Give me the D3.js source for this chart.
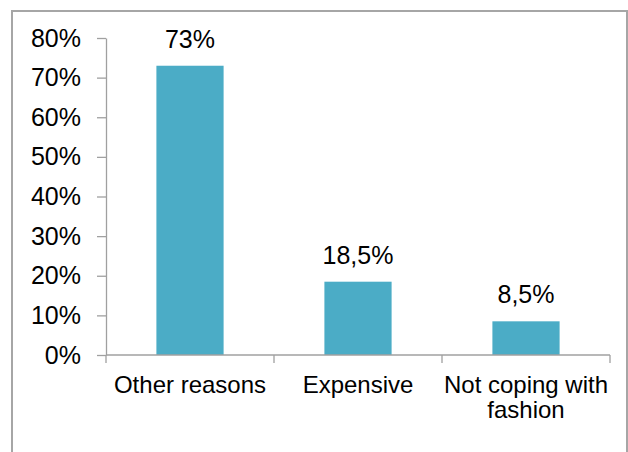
<!DOCTYPE html>
<html>
<head>
<meta charset="utf-8">
<script src="https://cdn.jsdelivr.net/npm/d3@7"></script>
<style>
  html, body { margin: 0; padding: 0; background: #fff; }
  svg { display: block; }
  text { font-family: "Liberation Sans", Arial, sans-serif; fill: #000; }
</style>
</head>
<body>
<svg id="chart" width="628" height="452"></svg>
<script>
const categories = [["Other reasons"], ["Expensive"], ["Not coping with", "fashion"]];
const categoryKeys = ["Other reasons", "Expensive", "Not coping with fashion"];
const values = [0.73, 0.185, 0.085];
const valueLabels = ["73%", "18,5%", "8,5%"];
const yTicks = [0, 0.1, 0.2, 0.3, 0.4, 0.5, 0.6, 0.7, 0.8];

const svg = d3.select("#chart");
const axisColor = "#a0a0a0";
const barColor = "#4bacc6";
const fontSize = 24;
const numFontSize = 25;

// frame
svg.append("rect")
  .attr("x", 12).attr("y", 11)
  .attr("width", 615).attr("height", 470)
  .attr("fill", "none").attr("stroke", "#a6a6a6").attr("stroke-width", 2);

const y = d3.scaleLinear().domain([0, 0.8]).range([355, 38]);
const x = d3.scaleBand().domain(categoryKeys).range([106, 610]).padding(0);

// y axis
const yAxis = svg.append("g")
  .attr("transform", "translate(106,0)")
  .call(d3.axisLeft(y).tickValues(yTicks).tickFormat(d3.format(".0%")).tickSize(9).tickPadding(16).tickSizeOuter(0));
yAxis.select(".domain").attr("stroke", axisColor).attr("stroke-width", 1.3);
yAxis.selectAll(".tick line").attr("stroke", axisColor).attr("stroke-width", 1.3);
yAxis.selectAll(".tick text")
  .attr("font-size", numFontSize)
  .attr("font-family", "'Liberation Sans', Arial, sans-serif")
  .attr("fill", "#000");

// bars
const barW = x.bandwidth() * 0.4;
svg.append("g").selectAll("rect")
  .data(values)
  .join("rect")
  .attr("x", (d, i) => x(categoryKeys[i]) + (x.bandwidth() - barW) / 2)
  .attr("y", d => y(d))
  .attr("width", barW)
  .attr("height", d => y(0) - y(d))
  .attr("fill", barColor);

// x axis line and boundary ticks
const xg = svg.append("g");
xg.append("line")
  .attr("x1", x.range()[0]).attr("x2", x.range()[1])
  .attr("y1", y(0)).attr("y2", y(0))
  .attr("stroke", axisColor).attr("stroke-width", 1.3);
const bounds = categoryKeys.map(k => x(k)).concat([x.range()[1]]);
xg.selectAll("line.tk")
  .data(bounds)
  .join("line")
  .attr("class", "tk")
  .attr("x1", d => d).attr("x2", d => d)
  .attr("y1", y(0)).attr("y2", y(0) + 8)
  .attr("stroke", axisColor).attr("stroke-width", 1.3);

// category labels
categories.forEach((lines, i) => {
  const cx = x(categoryKeys[i]) + x.bandwidth() / 2;
  const t = svg.append("text")
    .attr("text-anchor", "middle")
    .attr("font-size", fontSize);
  lines.forEach((ln, j) => {
    t.append("tspan").attr("x", cx).attr("y", 393 + j * 25).text(ln);
  });
});

// value labels
svg.append("g").selectAll("text")
  .data(values)
  .join("text")
  .attr("x", (d, i) => x(categoryKeys[i]) + x.bandwidth() / 2)
  .attr("y", d => y(d) - 18)
  .attr("text-anchor", "middle")
  .attr("font-size", numFontSize)
  .text((d, i) => valueLabels[i]);
</script>
</body>
</html>
